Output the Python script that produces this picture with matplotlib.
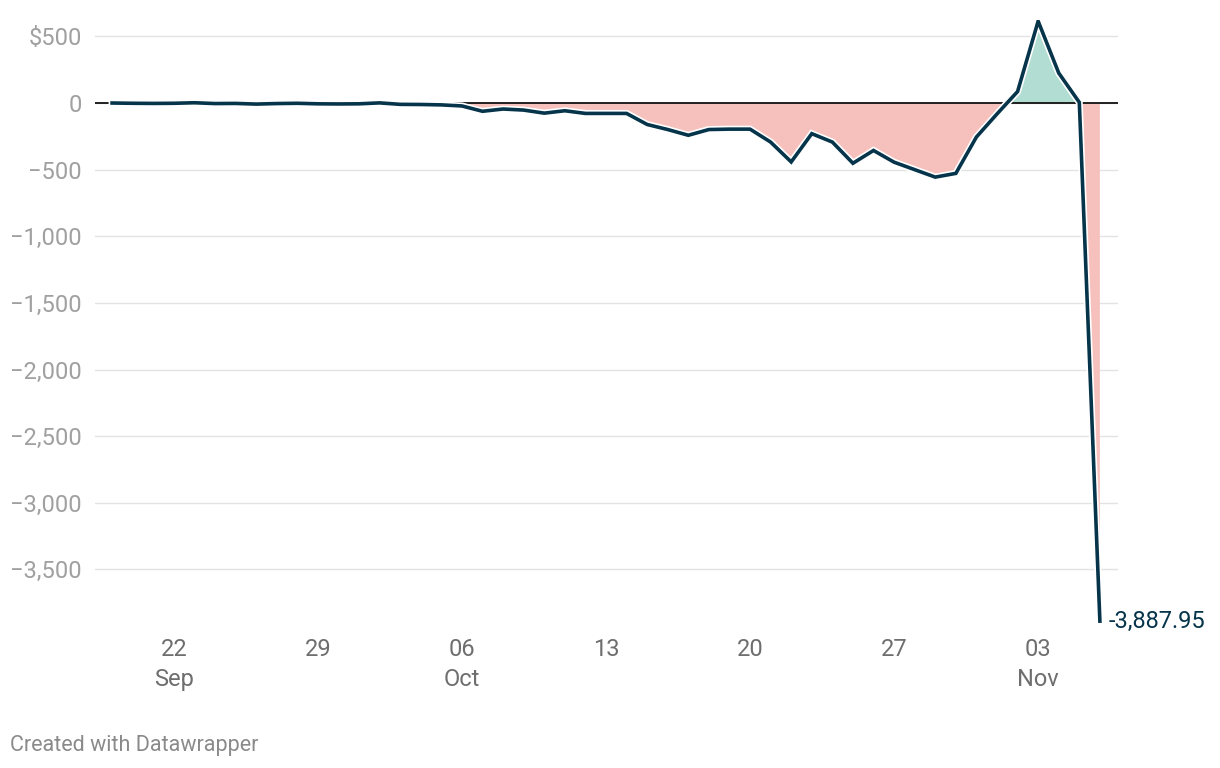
import pandas as pd
import numpy as np
import matplotlib.pyplot as plt
import matplotlib.patheffects as pe
import matplotlib.ticker as mticker

plt.rcParams['font.family'] = ['Roboto', 'DejaVu Sans']

# daily values, Sep 19 -> Nov 6
dates = pd.date_range("2024-09-19", "2024-11-06", freq="D")
values = [0, -2, -3, -2, 2, -4, -3, -8, -4, -2,
          -6, -7, -6, 1, -10, -11, -14, -22, -62, -45,
          -53, -76, -58, -78, -78, -78, -161, -199, -242, -199,
          -196, -196, -293, -442, -230, -293, -452, -356, -444, -500,
          -556, -528, -255, -82, 86, 614, 225, 5, -3887.95]

tick_dates = pd.to_datetime(["2024-09-22", "2024-09-29", "2024-10-06", "2024-10-13",
                             "2024-10-20", "2024-10-27", "2024-11-03"])
tick_labels = ["22\nSep", "29", "06\nOct", "13", "20", "27", "03\nNov"]
y_ticks = [500, 0, -500, -1000, -1500, -2000, -2500, -3000, -3500]

vals = np.array(values)

fig = plt.figure(figsize=(12.2, 7.68), dpi=100)
ax = fig.add_axes([95 / 1220, 1 - 625 / 768, (1118 - 95) / 1220, 605 / 768])

ax.fill_between(dates, vals, 0, where=vals < 0, interpolate=True, color="#f6c1bd", lw=0)
ax.fill_between(dates, vals, 0, where=vals > 0, interpolate=True, color="#b1ddd3", lw=0)

ax.plot(dates, vals, color="#06344a", lw=2.6, solid_joinstyle="miter",
        path_effects=[pe.Stroke(linewidth=5, foreground="white"), pe.Normal()], zorder=4)
ax.axhline(0, color="#111111", lw=1.3, zorder=3)

ax.set_yticks(y_ticks)
ax.yaxis.set_major_formatter(mticker.FuncFormatter(
    lambda v, p: "$500" if v == 500 else ("0" if v == 0 else "\u2212{:,.0f}".format(-v))))
ax.grid(axis="y", color="#e3e3e3", lw=1)
ax.set_axisbelow(True)
ax.set_xticks(tick_dates)
ax.set_xticklabels(tick_labels)

ax.set_xlim(dates[0] - pd.Timedelta(days=0.83), dates[-1] + pd.Timedelta(days=0.88))
ax.set_ylim(-3917, 623)

for s in ax.spines.values():
    s.set_visible(False)
ax.tick_params(axis="y", length=0, pad=9.4, labelsize=17, labelcolor="#a0a0a0")
ax.tick_params(axis="x", length=0, pad=9, labelsize=17, labelcolor="#6e6e6e")
for t in ax.get_xticklabels():
    t.set_linespacing(1.4)

ax.annotate("-3,887.95", (dates[-1], values[-1]), xytext=(6, 0), textcoords="offset points",
            ha="left", va="center", fontsize=17, color="#06344a")

fig.text(10 / 1220, 1 - 745 / 768, "Created with Datawrapper", fontsize=15.5,
         color="#8a8a8a", ha="left", va="center")

fig.savefig("out.png", dpi=100)
